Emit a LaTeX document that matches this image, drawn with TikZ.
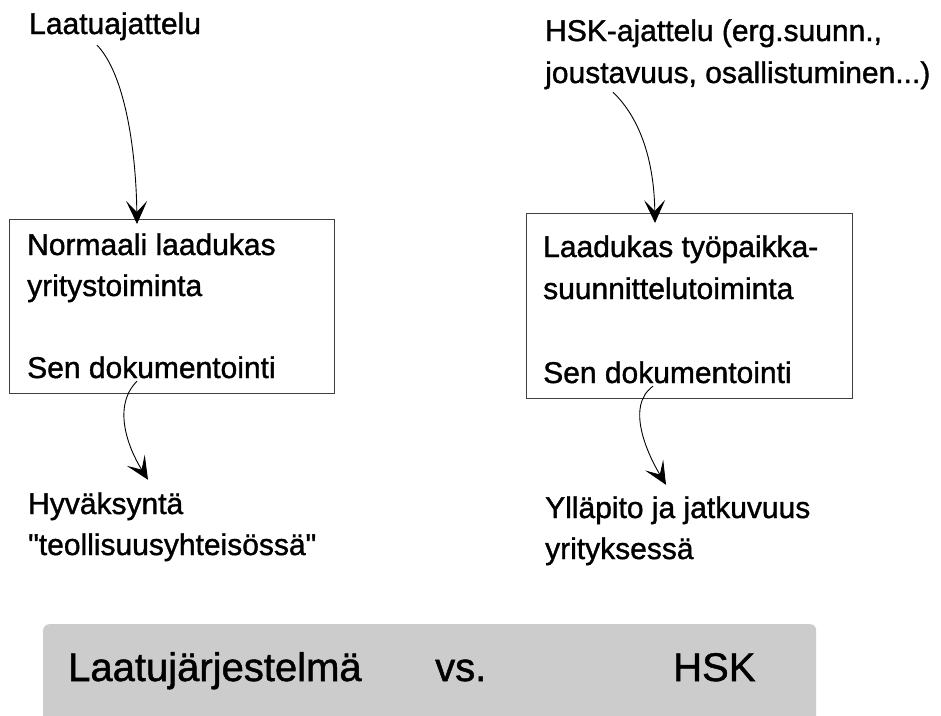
\documentclass[tikz,border=0pt]{standalone}
\usepackage{fontspec}
\newfontfamily\lsans{Liberation Sans}[FakeBold=1.2]
\usetikzlibrary{arrows.meta}
\newcommand\txtlines[1]{\begin{tabular}[t]{@{}l@{}}#1\end{tabular}}
\begin{document}
\begin{tikzpicture}[x=1pt,y=-1pt,
  txt/.style={anchor=base west, inner sep=0pt, font=\lsans\fontsize{30}{41}\selectfont},
  txtr/.style={anchor=base west, inner sep=0pt, font=\lsans\fontsize{30}{42}\selectfont},
  big/.style={anchor=base west, inner sep=0pt, font=\lsans\fontsize{40}{48}\selectfont},
  frame/.style={draw=black!75, line width=1.2pt, inner sep=0pt, anchor=north west},
  graybox/.style={fill=black!20, rounded corners=6pt, inner sep=0pt, anchor=north west},
  conn/.style={line width=0.9pt, -{Stealth[length=23pt,width=21pt,inset=11pt]}},
]
\useasboundingbox (0,0) rectangle (941,715);
\clip (0,0) rectangle (941,715);

% boxes
\node[frame, minimum width=325pt, minimum height=174pt] (b1) at (9,219) {};
\node[frame, minimum width=326pt, minimum height=185pt] (b2) at (526,213) {};

% left column
\node[txt] (lt) at (29,34) {Laatuajattelu};
\node[txt] (b1t) at (27,255) {\txtlines{Normaali laadukas\\yritystoiminta\\[41pt]Sen dokumentointi}};
\node[txt] (lb) at (28,514) {\txtlines{Hyväksyntä\\"teollisuusyhteisössä"}};

% right column
\node[txtr] (rt) at (545,41) {\txtlines{HSK-ajattelu (erg.suunn.,\\joustavuus, osallistuminen...)}};
\node[txtr] (b2t) at (543,257) {\txtlines{Laadukas työpaikka-\\suunnittelutoiminta\\[42pt]Sen dokumentointi}};
\node[txt] (rb) at (545,518) {\txtlines{Ylläpito ja jatkuvuus\\yrityksessä}};

% bottom comparison bar
\node[graybox, minimum width=773pt, minimum height=110pt] (cmp) at (43,624) {};
\node[big] (q) at (68,681) {Laatujärjestelmä};
\node[big] (vs) at (435,681) {vs.};
\node[big] (h) at (673,681) {HSK};

% connectors
\draw[conn] ([xshift=68pt,yshift=-4.7pt]lt.south west)
  .. controls +(28,29) and +(-1,-74) .. ([xshift=128pt,yshift=-5pt]b1.north west);
\draw[conn] ([xshift=128pt,yshift=13pt]b1.south west)
  .. controls +(-25,25) and +(-20,-32) .. ([xshift=120pt,yshift=5.3pt]lb.north west);
\draw[conn] ([xshift=68pt,yshift=3.6pt]rt.south west)
  .. controls +(27,26) and +(-1,-63) .. ([xshift=129pt,yshift=-10pt]b2.north west);
\draw[conn] ([xshift=127pt,yshift=13pt]b2.south west)
  .. controls +(-28,20) and +(-18,-30) .. ([xshift=121pt,yshift=4.3pt]rb.north west);
\end{tikzpicture}
\end{document}
